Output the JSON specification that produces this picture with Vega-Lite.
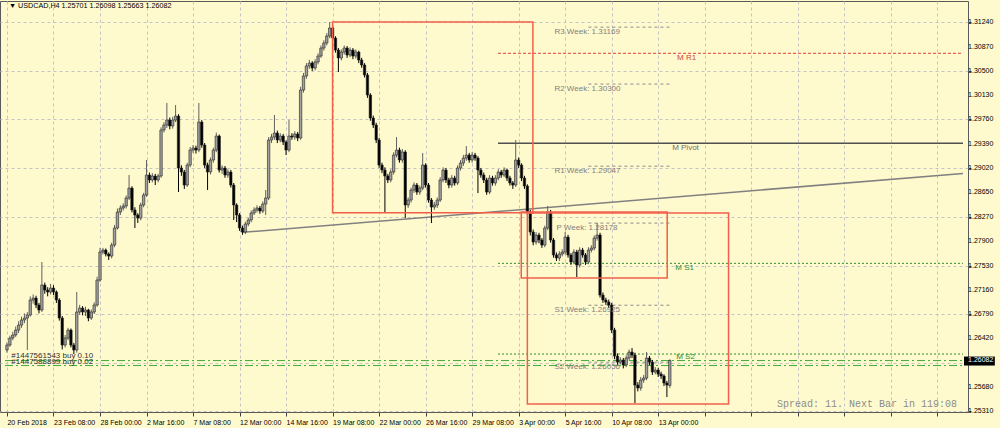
{
"$schema": "https://vega.github.io/schema/vega-lite/v6.json",
"width": 968, "height": 411,
"autosize": {"type": "none"},
"padding": {"left": 0, "top": 1, "right": 32, "bottom": 16},
"background": "#FFFACD",
"config": {
"view": {"stroke": "#5a5a5a", "strokeWidth": 1},
"axis": {"grid": true, "gridColor": "#c4c4c4", "gridDash": [3,3], "gridWidth": 1, "tickColor": "#404040", "labelFont": "Liberation Sans", "labelFontSize": 7, "labelColor": "#000000", "domain": false, "labelOverlap": false, "labelFlush": false},
"axisX": {"tickSize": 4, "labelAlign": "left", "labelPadding": 2},
"axisY": {"tickSize": 3, "labelPadding": 2}
},
"resolve": {"scale": {"color": "independent"}},
"datasets": {
"candles": [
{"i":0,"o":1.26241,"h":1.2636,"l":1.262,"c":1.26317},
{"i":1,"o":1.26317,"h":1.2646,"l":1.2629,"c":1.26424},
{"i":2,"o":1.26424,"h":1.2652,"l":1.2639,"c":1.2647},
{"i":3,"o":1.2647,"h":1.266,"l":1.2644,"c":1.26546},
{"i":4,"o":1.26546,"h":1.2668,"l":1.265,"c":1.26622},
{"i":5,"o":1.26622,"h":1.2675,"l":1.2658,"c":1.26699},
{"i":6,"o":1.26699,"h":1.268,"l":1.2665,"c":1.26729},
{"i":7,"o":1.26729,"h":1.2682,"l":1.26241,"c":1.26775},
{"i":8,"o":1.26775,"h":1.2706,"l":1.2675,"c":1.27004},
{"i":9,"o":1.27004,"h":1.2709,"l":1.2695,"c":1.27034},
{"i":10,"o":1.27034,"h":1.2707,"l":1.2688,"c":1.26928},
{"i":11,"o":1.26928,"h":1.2696,"l":1.268,"c":1.26851},
{"i":12,"o":1.26851,"h":1.27584,"l":1.2682,"c":1.27233},
{"i":13,"o":1.27233,"h":1.2727,"l":1.271,"c":1.27156},
{"i":14,"o":1.27156,"h":1.272,"l":1.2706,"c":1.27126},
{"i":15,"o":1.27126,"h":1.2725,"l":1.2709,"c":1.27187},
{"i":16,"o":1.27187,"h":1.2723,"l":1.2708,"c":1.27126},
{"i":17,"o":1.27126,"h":1.2715,"l":1.2696,"c":1.27004},
{"i":18,"o":1.27004,"h":1.2703,"l":1.2669,"c":1.26729},
{"i":19,"o":1.26729,"h":1.2676,"l":1.2625,"c":1.26317},
{"i":20,"o":1.26317,"h":1.2647,"l":1.2628,"c":1.26424},
{"i":21,"o":1.26424,"h":1.2658,"l":1.2639,"c":1.26546},
{"i":22,"o":1.26546,"h":1.2657,"l":1.2628,"c":1.26317},
{"i":23,"o":1.26317,"h":1.2635,"l":1.2618,"c":1.26241},
{"i":24,"o":1.26241,"h":1.27126,"l":1.262,"c":1.26821},
{"i":25,"o":1.26821,"h":1.2693,"l":1.2678,"c":1.26882},
{"i":26,"o":1.26882,"h":1.2691,"l":1.2677,"c":1.26821},
{"i":27,"o":1.26821,"h":1.269,"l":1.2676,"c":1.26851},
{"i":28,"o":1.26851,"h":1.2687,"l":1.2668,"c":1.26729},
{"i":29,"o":1.26729,"h":1.2686,"l":1.267,"c":1.26821},
{"i":30,"o":1.26821,"h":1.2697,"l":1.2679,"c":1.26928},
{"i":31,"o":1.26928,"h":1.2736,"l":1.269,"c":1.27309},
{"i":32,"o":1.27309,"h":1.278,"l":1.2728,"c":1.27737},
{"i":33,"o":1.27737,"h":1.278,"l":1.277,"c":1.27767},
{"i":34,"o":1.27767,"h":1.2779,"l":1.2767,"c":1.27706},
{"i":35,"o":1.27706,"h":1.2773,"l":1.27615,"c":1.27675},
{"i":36,"o":1.27675,"h":1.2788,"l":1.2764,"c":1.27843},
{"i":37,"o":1.27843,"h":1.2815,"l":1.2781,"c":1.28103},
{"i":38,"o":1.28103,"h":1.284,"l":1.2808,"c":1.28347},
{"i":39,"o":1.28347,"h":1.2845,"l":1.283,"c":1.28408},
{"i":40,"o":1.28408,"h":1.2848,"l":1.2837,"c":1.28439},
{"i":41,"o":1.28439,"h":1.286,"l":1.284,"c":1.28561},
{"i":42,"o":1.28561,"h":1.28912,"l":1.2853,"c":1.28713},
{"i":43,"o":1.28713,"h":1.2874,"l":1.2834,"c":1.28378},
{"i":44,"o":1.28378,"h":1.2842,"l":1.28103,"c":1.28301},
{"i":45,"o":1.28301,"h":1.2833,"l":1.2818,"c":1.28255},
{"i":46,"o":1.28255,"h":1.2849,"l":1.2822,"c":1.28454},
{"i":47,"o":1.28454,"h":1.2864,"l":1.2842,"c":1.28607},
{"i":48,"o":1.28607,"h":1.29141,"l":1.2858,"c":1.28912},
{"i":49,"o":1.28912,"h":1.2895,"l":1.2879,"c":1.28836},
{"i":50,"o":1.28836,"h":1.2894,"l":1.288,"c":1.28897},
{"i":51,"o":1.28897,"h":1.2893,"l":1.28759,"c":1.28836},
{"i":52,"o":1.28836,"h":1.2893,"l":1.288,"c":1.28897},
{"i":53,"o":1.28897,"h":1.2964,"l":1.2887,"c":1.29599},
{"i":54,"o":1.29599,"h":1.2972,"l":1.2956,"c":1.29675},
{"i":55,"o":1.29675,"h":1.30011,"l":1.2963,"c":1.29751},
{"i":56,"o":1.29751,"h":1.2979,"l":1.2961,"c":1.2966},
{"i":57,"o":1.2966,"h":1.298,"l":1.2962,"c":1.29751},
{"i":58,"o":1.29751,"h":1.2998,"l":1.2972,"c":1.29812},
{"i":59,"o":1.29812,"h":1.2984,"l":1.28652,"c":1.29019},
{"i":60,"o":1.29019,"h":1.2906,"l":1.289,"c":1.28958},
{"i":61,"o":1.28958,"h":1.2899,"l":1.287,"c":1.28759},
{"i":62,"o":1.28759,"h":1.291,"l":1.2873,"c":1.29064},
{"i":63,"o":1.29064,"h":1.2934,"l":1.2903,"c":1.29293},
{"i":64,"o":1.29293,"h":1.2937,"l":1.2925,"c":1.29324},
{"i":65,"o":1.29324,"h":1.2936,"l":1.2924,"c":1.29293},
{"i":66,"o":1.29293,"h":1.30011,"l":1.2926,"c":1.29721},
{"i":67,"o":1.29721,"h":1.2975,"l":1.2933,"c":1.2937},
{"i":68,"o":1.2937,"h":1.294,"l":1.2902,"c":1.29064},
{"i":69,"o":1.29064,"h":1.291,"l":1.28683,"c":1.28958},
{"i":70,"o":1.28958,"h":1.2918,"l":1.2892,"c":1.29141},
{"i":71,"o":1.29141,"h":1.2933,"l":1.291,"c":1.29293},
{"i":72,"o":1.29293,"h":1.2956,"l":1.2926,"c":1.29507},
{"i":73,"o":1.29507,"h":1.2953,"l":1.2895,"c":1.28988},
{"i":74,"o":1.28988,"h":1.2906,"l":1.2893,"c":1.29019},
{"i":75,"o":1.29019,"h":1.2905,"l":1.2887,"c":1.28912},
{"i":76,"o":1.28912,"h":1.29,"l":1.2887,"c":1.28958},
{"i":77,"o":1.28958,"h":1.2899,"l":1.2872,"c":1.28759},
{"i":78,"o":1.28759,"h":1.2879,"l":1.28225,"c":1.28454},
{"i":79,"o":1.28454,"h":1.2848,"l":1.28194,"c":1.28301},
{"i":80,"o":1.28301,"h":1.2833,"l":1.2806,"c":1.28103},
{"i":81,"o":1.28103,"h":1.2814,"l":1.28,"c":1.28042},
{"i":82,"o":1.28042,"h":1.282,"l":1.2801,"c":1.28164},
{"i":83,"o":1.28164,"h":1.2826,"l":1.2813,"c":1.28225},
{"i":84,"o":1.28225,"h":1.2837,"l":1.2819,"c":1.28332},
{"i":85,"o":1.28332,"h":1.2842,"l":1.283,"c":1.28378},
{"i":86,"o":1.28378,"h":1.2845,"l":1.2834,"c":1.28408},
{"i":87,"o":1.28408,"h":1.2844,"l":1.2832,"c":1.28362},
{"i":88,"o":1.28362,"h":1.2851,"l":1.2833,"c":1.28469},
{"i":89,"o":1.28469,"h":1.28683,"l":1.28301,"c":1.28561},
{"i":90,"o":1.28561,"h":1.2949,"l":1.2853,"c":1.29446},
{"i":91,"o":1.29446,"h":1.2954,"l":1.294,"c":1.29492},
{"i":92,"o":1.29492,"h":1.29828,"l":1.2945,"c":1.29553},
{"i":93,"o":1.29553,"h":1.2959,"l":1.294,"c":1.29446},
{"i":94,"o":1.29446,"h":1.2955,"l":1.2941,"c":1.29507},
{"i":95,"o":1.29507,"h":1.2954,"l":1.2937,"c":1.29416},
{"i":96,"o":1.29416,"h":1.2944,"l":1.29217,"c":1.29293},
{"i":97,"o":1.29293,"h":1.29751,"l":1.2926,"c":1.29507},
{"i":98,"o":1.29507,"h":1.2955,"l":1.2945,"c":1.29492},
{"i":99,"o":1.29492,"h":1.2958,"l":1.2945,"c":1.29538},
{"i":100,"o":1.29538,"h":1.2957,"l":1.2943,"c":1.29477},
{"i":101,"o":1.29477,"h":1.3026,"l":1.2945,"c":1.30209},
{"i":102,"o":1.30209,"h":1.3047,"l":1.3017,"c":1.30423},
{"i":103,"o":1.30423,"h":1.3062,"l":1.3038,"c":1.30576},
{"i":104,"o":1.30576,"h":1.3067,"l":1.3053,"c":1.30621},
{"i":105,"o":1.30621,"h":1.3065,"l":1.305,"c":1.30545},
{"i":106,"o":1.30545,"h":1.3068,"l":1.3051,"c":1.30637},
{"i":107,"o":1.30637,"h":1.3077,"l":1.306,"c":1.30728},
{"i":108,"o":1.30728,"h":1.3089,"l":1.307,"c":1.3085},
{"i":109,"o":1.3085,"h":1.3097,"l":1.3081,"c":1.30927},
{"i":110,"o":1.30927,"h":1.3108,"l":1.3089,"c":1.31034},
{"i":111,"o":1.31034,"h":1.31247,"l":1.31,"c":1.31156},
{"i":112,"o":1.31156,"h":1.312,"l":1.3096,"c":1.31003},
{"i":113,"o":1.31003,"h":1.3103,"l":1.3078,"c":1.3082},
{"i":114,"o":1.3082,"h":1.3085,"l":1.30484,"c":1.30698},
{"i":115,"o":1.30698,"h":1.3083,"l":1.3066,"c":1.30789},
{"i":116,"o":1.30789,"h":1.3089,"l":1.3075,"c":1.3085},
{"i":117,"o":1.3085,"h":1.3088,"l":1.307,"c":1.30744},
{"i":118,"o":1.30744,"h":1.3086,"l":1.3071,"c":1.3082},
{"i":119,"o":1.3082,"h":1.3085,"l":1.3068,"c":1.30728},
{"i":120,"o":1.30728,"h":1.3083,"l":1.3069,"c":1.30789},
{"i":121,"o":1.30789,"h":1.3081,"l":1.3062,"c":1.30667},
{"i":122,"o":1.30667,"h":1.307,"l":1.3055,"c":1.30591},
{"i":123,"o":1.30591,"h":1.3062,"l":1.304,"c":1.30438},
{"i":124,"o":1.30438,"h":1.3047,"l":1.3009,"c":1.30133},
{"i":125,"o":1.30133,"h":1.3016,"l":1.2974,"c":1.29782},
{"i":126,"o":1.29782,"h":1.2982,"l":1.2963,"c":1.29675},
{"i":127,"o":1.29675,"h":1.2971,"l":1.294,"c":1.29446},
{"i":128,"o":1.29446,"h":1.2948,"l":1.2902,"c":1.29064},
{"i":129,"o":1.29064,"h":1.291,"l":1.2894,"c":1.28988},
{"i":130,"o":1.28988,"h":1.2903,"l":1.28332,"c":1.28897},
{"i":131,"o":1.28897,"h":1.2893,"l":1.2879,"c":1.28836},
{"i":132,"o":1.28836,"h":1.29,"l":1.288,"c":1.28958},
{"i":133,"o":1.28958,"h":1.2926,"l":1.2892,"c":1.29217},
{"i":134,"o":1.29217,"h":1.29492,"l":1.2918,"c":1.29293},
{"i":135,"o":1.29293,"h":1.2933,"l":1.291,"c":1.29141},
{"i":136,"o":1.29141,"h":1.2931,"l":1.291,"c":1.29263},
{"i":137,"o":1.29263,"h":1.2929,"l":1.28255,"c":1.28454},
{"i":138,"o":1.28454,"h":1.2857,"l":1.2841,"c":1.2853},
{"i":139,"o":1.2853,"h":1.2872,"l":1.2849,"c":1.28683},
{"i":140,"o":1.28683,"h":1.288,"l":1.2864,"c":1.28759},
{"i":141,"o":1.28759,"h":1.2879,"l":1.2861,"c":1.28652},
{"i":142,"o":1.28652,"h":1.2875,"l":1.2861,"c":1.28713},
{"i":143,"o":1.28713,"h":1.29248,"l":1.2868,"c":1.29064},
{"i":144,"o":1.29064,"h":1.2909,"l":1.2872,"c":1.28759},
{"i":145,"o":1.28759,"h":1.2879,"l":1.2849,"c":1.2853},
{"i":146,"o":1.2853,"h":1.2856,"l":1.28179,"c":1.28423},
{"i":147,"o":1.28423,"h":1.285,"l":1.2838,"c":1.28454},
{"i":148,"o":1.28454,"h":1.2857,"l":1.2841,"c":1.2853},
{"i":149,"o":1.2853,"h":1.2888,"l":1.285,"c":1.28836},
{"i":150,"o":1.28836,"h":1.2903,"l":1.288,"c":1.28988},
{"i":151,"o":1.28988,"h":1.2902,"l":1.2879,"c":1.28836},
{"i":152,"o":1.28836,"h":1.2887,"l":1.2871,"c":1.28759},
{"i":153,"o":1.28759,"h":1.2891,"l":1.2872,"c":1.28866},
{"i":154,"o":1.28866,"h":1.289,"l":1.2875,"c":1.2879},
{"i":155,"o":1.2879,"h":1.2906,"l":1.2876,"c":1.29019},
{"i":156,"o":1.29019,"h":1.2914,"l":1.2898,"c":1.29095},
{"i":157,"o":1.29095,"h":1.2922,"l":1.2905,"c":1.29171},
{"i":158,"o":1.29171,"h":1.29354,"l":1.2913,"c":1.29217},
{"i":159,"o":1.29217,"h":1.2925,"l":1.291,"c":1.29141},
{"i":160,"o":1.29141,"h":1.2926,"l":1.291,"c":1.29217},
{"i":161,"o":1.29217,"h":1.2925,"l":1.2913,"c":1.29171},
{"i":162,"o":1.29171,"h":1.292,"l":1.28637,"c":1.28988},
{"i":163,"o":1.28988,"h":1.2902,"l":1.2887,"c":1.28912},
{"i":164,"o":1.28912,"h":1.2895,"l":1.2879,"c":1.28836},
{"i":165,"o":1.28836,"h":1.2887,"l":1.2861,"c":1.28652},
{"i":166,"o":1.28652,"h":1.2891,"l":1.2862,"c":1.28866},
{"i":167,"o":1.28866,"h":1.289,"l":1.2875,"c":1.2879},
{"i":168,"o":1.2879,"h":1.2891,"l":1.2875,"c":1.28866},
{"i":169,"o":1.28866,"h":1.29,"l":1.2883,"c":1.28958},
{"i":170,"o":1.28958,"h":1.2899,"l":1.2887,"c":1.28912},
{"i":171,"o":1.28912,"h":1.2903,"l":1.2888,"c":1.28988},
{"i":172,"o":1.28988,"h":1.2901,"l":1.2882,"c":1.28866},
{"i":173,"o":1.28866,"h":1.289,"l":1.2875,"c":1.2879},
{"i":174,"o":1.2879,"h":1.2882,"l":1.287,"c":1.28759},
{"i":175,"o":1.28759,"h":1.29446,"l":1.2873,"c":1.29141},
{"i":176,"o":1.29141,"h":1.2918,"l":1.2902,"c":1.29064},
{"i":177,"o":1.29064,"h":1.2909,"l":1.2882,"c":1.28866},
{"i":178,"o":1.28866,"h":1.289,"l":1.287,"c":1.28744},
{"i":179,"o":1.28744,"h":1.2877,"l":1.283,"c":1.28347},
{"i":180,"o":1.28347,"h":1.2838,"l":1.2799,"c":1.28042},
{"i":181,"o":1.28042,"h":1.2808,"l":1.2784,"c":1.27889},
{"i":182,"o":1.27889,"h":1.2804,"l":1.2785,"c":1.27996},
{"i":183,"o":1.27996,"h":1.2803,"l":1.2787,"c":1.2792},
{"i":184,"o":1.2792,"h":1.2795,"l":1.278,"c":1.27843},
{"i":185,"o":1.27843,"h":1.2814,"l":1.2781,"c":1.28103},
{"i":186,"o":1.28103,"h":1.28439,"l":1.2807,"c":1.28347},
{"i":187,"o":1.28347,"h":1.2838,"l":1.2788,"c":1.2792},
{"i":188,"o":1.2792,"h":1.2795,"l":1.2765,"c":1.27691},
{"i":189,"o":1.27691,"h":1.2773,"l":1.276,"c":1.27645},
{"i":190,"o":1.27645,"h":1.2775,"l":1.276,"c":1.27706},
{"i":191,"o":1.27706,"h":1.2778,"l":1.2767,"c":1.27737},
{"i":192,"o":1.27737,"h":1.28042,"l":1.277,"c":1.27965},
{"i":193,"o":1.27965,"h":1.28,"l":1.2765,"c":1.27691},
{"i":194,"o":1.27691,"h":1.2772,"l":1.2754,"c":1.27584},
{"i":195,"o":1.27584,"h":1.2778,"l":1.2755,"c":1.27737},
{"i":196,"o":1.27737,"h":1.2777,"l":1.27355,"c":1.27538},
{"i":197,"o":1.27538,"h":1.2781,"l":1.275,"c":1.27767},
{"i":198,"o":1.27767,"h":1.278,"l":1.2765,"c":1.27691},
{"i":199,"o":1.27691,"h":1.2772,"l":1.2754,"c":1.27584},
{"i":200,"o":1.27584,"h":1.2781,"l":1.2755,"c":1.27767},
{"i":201,"o":1.27767,"h":1.2784,"l":1.2773,"c":1.27797},
{"i":202,"o":1.27797,"h":1.2799,"l":1.2776,"c":1.2795},
{"i":203,"o":1.2795,"h":1.28179,"l":1.2791,"c":1.27996},
{"i":204,"o":1.27996,"h":1.2803,"l":1.2704,"c":1.2708},
{"i":205,"o":1.2708,"h":1.2712,"l":1.2696,"c":1.27004},
{"i":206,"o":1.27004,"h":1.2704,"l":1.2693,"c":1.26973},
{"i":207,"o":1.26973,"h":1.2701,"l":1.2688,"c":1.26928},
{"i":208,"o":1.26928,"h":1.2696,"l":1.265,"c":1.26546},
{"i":209,"o":1.26546,"h":1.2658,"l":1.261,"c":1.26149},
{"i":210,"o":1.26149,"h":1.2619,"l":1.2601,"c":1.26057},
{"i":211,"o":1.26057,"h":1.2613,"l":1.2602,"c":1.26088},
{"i":212,"o":1.26088,"h":1.2612,"l":1.2596,"c":1.26012},
{"i":213,"o":1.26012,"h":1.2616,"l":1.2598,"c":1.26119},
{"i":214,"o":1.26119,"h":1.2625,"l":1.2608,"c":1.2621},
{"i":215,"o":1.2621,"h":1.26271,"l":1.2612,"c":1.26164},
{"i":216,"o":1.26164,"h":1.262,"l":1.25432,"c":1.25706},
{"i":217,"o":1.25706,"h":1.2575,"l":1.2561,"c":1.25661},
{"i":218,"o":1.25661,"h":1.2583,"l":1.2562,"c":1.25783},
{"i":219,"o":1.25783,"h":1.2586,"l":1.2574,"c":1.25813},
{"i":220,"o":1.25813,"h":1.2621,"l":1.2578,"c":1.26119},
{"i":221,"o":1.26119,"h":1.2615,"l":1.2601,"c":1.26057},
{"i":222,"o":1.26057,"h":1.2609,"l":1.2586,"c":1.25905},
{"i":223,"o":1.25905,"h":1.2598,"l":1.2587,"c":1.25935},
{"i":224,"o":1.25935,"h":1.2597,"l":1.2583,"c":1.25874},
{"i":225,"o":1.25874,"h":1.2591,"l":1.258,"c":1.25844},
{"i":226,"o":1.25844,"h":1.2587,"l":1.2569,"c":1.25737},
{"i":227,"o":1.25737,"h":1.2577,"l":1.25523,"c":1.25706},
{"i":228,"o":1.25701,"h":1.26098,"l":1.25663,"c":1.26082}
],
"boxes": [
{"i":112.0,"i2":180.9,"p":1.31247,"p2":1.28337},
{"i":176.9,"i2":227.1,"p":1.28347,"p2":1.2734},
{"i":179.0,"i2":248.2,"p":1.28332,"p2":1.25416}
],
"hlines": [
{"name":"M R1","kind":"mr1","i":168.9,"i2":328.85,"p":1.3077},
{"name":"M S1","kind":"ms","i":168.9,"i2":328.85,"p":1.27564},
{"name":"M S2","kind":"ms","i":168.9,"i2":328.85,"p":1.2618},
{"name":"R3 Week","kind":"week","i":200,"i2":228.1,"p":1.31169},
{"name":"R2 Week","kind":"week","i":200,"i2":228.1,"p":1.303},
{"name":"R1 Week","kind":"week","i":200,"i2":228.1,"p":1.29047},
{"name":"P Week","kind":"week","i":200,"i2":228.1,"p":1.28178},
{"name":"S1 Week","kind":"week","i":200,"i2":228.1,"p":1.26925},
{"name":"S2 Week","kind":"week","i":200,"i2":228.1,"p":1.26056},
{"name":"#1447561543","kind":"order","i":-0.68,"i2":328.85,"p":1.2608},
{"name":"#1447588899","kind":"order","i":-0.68,"i2":328.85,"p":1.26004}
],
"pivot": [{"name":"M Pivot","i":168.9,"i2":328.85,"p":1.29395}],
"trend": [{"i":81.0,"p":1.28037,"i2":328.85,"p2":1.28936}],
"notes": [
{"t":"R3 Week: 1.31169","kind":"week","i":188.3,"p":1.31095},
{"t":"R2 Week: 1.30300","kind":"week","i":188.3,"p":1.30224},
{"t":"R1 Week: 1.29047","kind":"week","i":188.3,"p":1.28977},
{"t":"P Week: 1.28178","kind":"week","i":189.0,"p":1.28098},
{"t":"S1 Week: 1.26925","kind":"week","i":188.3,"p":1.26851},
{"t":"S2 Week: 1.26056","kind":"week","i":188.3,"p":1.25986},
{"t":"M R1","kind":"mr1","i":230.5,"p":1.30693},
{"t":"M Pivot","kind":"mpivot","i":228.8,"p":1.29329},
{"t":"M S1","kind":"ms","i":229.9,"p":1.27488},
{"t":"M S2","kind":"ms","i":230.2,"p":1.26129},
{"t":"#1447561543 buy 0.10","kind":"order","i":1.5,"p":1.26149},
{"t":"#1447588899 buy 0.02","kind":"order","i":1.5,"p":1.26062}
],
"ylabels": [
{"i":330.6,"p":1.3124},{"i":330.6,"p":1.3087},{"i":330.6,"p":1.305},{"i":330.6,"p":1.3013},
{"i":330.6,"p":1.2976},{"i":330.6,"p":1.2939},{"i":330.6,"p":1.2902},{"i":330.6,"p":1.2865},
{"i":330.6,"p":1.2827},{"i":330.6,"p":1.279},{"i":330.6,"p":1.2753},{"i":330.6,"p":1.2716},
{"i":330.6,"p":1.2679},{"i":330.6,"p":1.2642},{"i":330.6,"p":1.2568},{"i":330.6,"p":1.2531}
],
"info": [{"t":"Spread: 11. Next Bar in 119:08","i":326.8,"p":1.25416}],
"header": [{"t":"▼ USDCAD,H4  1.25701 1.26098 1.25663 1.26082","i":0.68,"p":1.31496}],
"pricebox": [{"i":329.2,"i2":339.8,"p":1.26141,"p2":1.26004,"ti":330.6,"t":"1.26082","v":1.26082}]
},
"layer": [
{
"data": {"name": "pivot"},
"mark": {"type": "rule", "color": "#505050", "strokeWidth": 1.5},
"encoding": {
"x": {"field": "i", "type": "quantitative", "scale": {"domain": [-0.68, 328.85], "nice": false, "zero": false},
"axis": {"values": [0,16,32,48,64,80,96,112,128,144,160,176,192,208,224,240,256,272,288,304,320], "title": null, "labelOverlap": false, "labelFlush": false,
"labelExpr": "datum.value==0?'20 Feb 2018':datum.value==16?'23 Feb 08:00':datum.value==32?'28 Feb 00:00':datum.value==48?'2 Mar 16:00':datum.value==64?'7 Mar 08:00':datum.value==80?'12 Mar 00:00':datum.value==96?'14 Mar 16:00':datum.value==112?'19 Mar 08:00':datum.value==128?'22 Mar 00:00':datum.value==144?'26 Mar 16:00':datum.value==160?'29 Mar 08:00':datum.value==176?'3 Apr 00:00':datum.value==192?'5 Apr 16:00':datum.value==208?'10 Apr 08:00':datum.value==224?'13 Apr 00:00':''"}},
"x2": {"field": "i2"},
"y": {"field": "p", "type": "quantitative", "scale": {"domain": [1.25295, 1.31568], "nice": false, "zero": false},
"axis": {"orient": "right", "title": null, "labels": false,
"values": [1.2531,1.2568,1.2605,1.2642,1.2679,1.2716,1.2753,1.279,1.2827,1.2865,1.2902,1.2939,1.2976,1.3013,1.305,1.3087,1.3124]}}
}
},
{
"data": {"name": "hlines"},
"mark": {"type": "rule", "strokeWidth": 1},
"encoding": {
"x": {"field": "i", "type": "quantitative", "scale": {"domain": [-0.68, 328.85], "nice": false, "zero": false}},
"x2": {"field": "i2"},
"y": {"field": "p", "type": "quantitative", "scale": {"domain": [1.25295, 1.31568], "nice": false, "zero": false}},
"color": {"field": "kind", "type": "nominal", "legend": null,
"scale": {"domain": ["mr1","ms","week","order"], "range": ["#E03C3C","#2E8B2E","#8C8C8C","#3CAA3C"]}},
"strokeDash": {"field": "kind", "type": "nominal", "legend": null,
"scale": {"domain": ["mr1","ms","week","order"], "range": [[3,2],[2,2],[3,3],[8,3,2,3]]}}
}
},
{
"data": {"name": "trend"},
"mark": {"type": "rule", "color": "#808080", "strokeWidth": 1.5},
"encoding": {
"x": {"field": "i", "type": "quantitative", "scale": {"domain": [-0.68, 328.85], "nice": false, "zero": false}},
"x2": {"field": "i2"},
"y": {"field": "p", "type": "quantitative", "scale": {"domain": [1.25295, 1.31568], "nice": false, "zero": false}},
"y2": {"field": "p2"}
}
},
{
"data": {"name": "candles"},
"mark": {"type": "rule", "strokeWidth": 1},
"encoding": {
"x": {"field": "i", "type": "quantitative", "scale": {"domain": [-0.68, 328.85], "nice": false, "zero": false}},
"y": {"field": "l", "type": "quantitative", "scale": {"domain": [1.25295, 1.31568], "nice": false, "zero": false}},
"y2": {"field": "h"},
"color": {"condition": {"test": "datum.c >= datum.o", "value": "#606060"}, "value": "#000000"}
}
},
{
"data": {"name": "candles"},
"mark": {"type": "bar", "size": 2.4, "stroke": "#202020", "strokeWidth": 0.6},
"encoding": {
"x": {"field": "i", "type": "quantitative", "scale": {"domain": [-0.68, 328.85], "nice": false, "zero": false}},
"y": {"field": "o", "type": "quantitative", "scale": {"domain": [1.25295, 1.31568], "nice": false, "zero": false}},
"y2": {"field": "c"},
"fill": {"condition": {"test": "datum.c >= datum.o", "value": "#a0a0a0"}, "value": "#000000"}
}
},
{
"data": {"name": "boxes"},
"mark": {"type": "rect", "filled": false, "stroke": "#F25F4C", "strokeWidth": 1.5},
"encoding": {
"x": {"field": "i", "type": "quantitative", "scale": {"domain": [-0.68, 328.85], "nice": false, "zero": false}},
"x2": {"field": "i2"},
"y": {"field": "p", "type": "quantitative", "scale": {"domain": [1.25295, 1.31568], "nice": false, "zero": false}},
"y2": {"field": "p2"}
}
},
{
"data": {"name": "notes"},
"mark": {"type": "text", "align": "left", "baseline": "middle", "font": "Liberation Sans", "fontSize": 8},
"encoding": {
"x": {"field": "i", "type": "quantitative", "scale": {"domain": [-0.68, 328.85], "nice": false, "zero": false}},
"y": {"field": "p", "type": "quantitative", "scale": {"domain": [1.25295, 1.31568], "nice": false, "zero": false}},
"text": {"field": "t"},
"color": {"field": "kind", "type": "nominal", "legend": null,
"scale": {"domain": ["mr1","mpivot","ms","week","order"], "range": ["#D04040","#707070","#2E8B2E","#808080","#303030"]}}
}
},
{
"data": {"name": "ylabels"},
"mark": {"type": "text", "align": "left", "baseline": "middle", "font": "Liberation Sans", "fontSize": 7, "color": "#000000"},
"encoding": {
"x": {"field": "i", "type": "quantitative", "scale": {"domain": [-0.68, 328.85], "nice": false, "zero": false}},
"y": {"field": "p", "type": "quantitative", "scale": {"domain": [1.25295, 1.31568], "nice": false, "zero": false}},
"text": {"field": "p", "type": "quantitative", "format": ".5f"}
}
},
{
"data": {"name": "info"},
"mark": {"type": "text", "align": "right", "baseline": "middle", "font": "Liberation Mono", "fontSize": 10, "color": "#8C8C8C"},
"encoding": {
"x": {"field": "i", "type": "quantitative", "scale": {"domain": [-0.68, 328.85], "nice": false, "zero": false}},
"y": {"field": "p", "type": "quantitative", "scale": {"domain": [1.25295, 1.31568], "nice": false, "zero": false}},
"text": {"field": "t"}
}
},
{
"data": {"name": "header"},
"mark": {"type": "text", "align": "left", "baseline": "middle", "font": "Liberation Sans", "fontSize": 7.2, "color": "#000000"},
"encoding": {
"x": {"field": "i", "type": "quantitative", "scale": {"domain": [-0.68, 328.85], "nice": false, "zero": false}},
"y": {"field": "p", "type": "quantitative", "scale": {"domain": [1.25295, 1.31568], "nice": false, "zero": false}},
"text": {"field": "t"}
}
},
{
"data": {"name": "pricebox"},
"mark": {"type": "rect", "color": "#000000"},
"encoding": {
"x": {"field": "i", "type": "quantitative", "scale": {"domain": [-0.68, 328.85], "nice": false, "zero": false}},
"x2": {"field": "i2"},
"y": {"field": "p", "type": "quantitative", "scale": {"domain": [1.25295, 1.31568], "nice": false, "zero": false}},
"y2": {"field": "p2"}
}
},
{
"data": {"name": "pricebox"},
"mark": {"type": "text", "align": "left", "baseline": "middle", "font": "Liberation Sans", "fontSize": 7, "color": "#FFFFFF"},
"encoding": {
"x": {"field": "ti", "type": "quantitative", "scale": {"domain": [-0.68, 328.85], "nice": false, "zero": false}},
"y": {"field": "v", "type": "quantitative", "scale": {"domain": [1.25295, 1.31568], "nice": false, "zero": false}},
"text": {"field": "t"}
}
}
]
}
